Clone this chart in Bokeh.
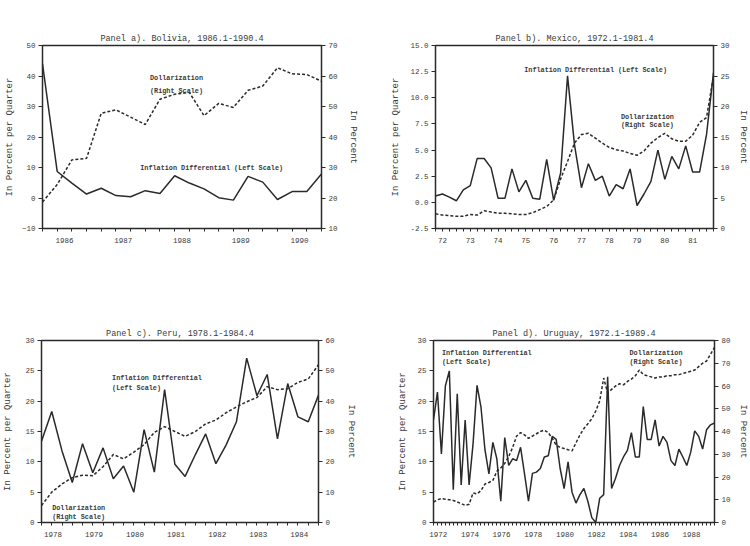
from bokeh.plotting import figure
from bokeh.models import (Range1d, LinearAxis, FixedTicker, CustomJSTickFormatter,
                          PrintfTickFormatter, Label, Title)
from bokeh.layouts import column, row
from bokeh.embed import file_html
from bokeh.resources import INLINE

# ---------------- data ----------------
# Panel a: Bolivia, quarterly from 1986.1
bol_start = 1986
bol_infl = [44.0, 8.7, 4.9, 1.3, 3.2, 0.8, 0.4, 2.4, 1.5, 7.3,
            4.9, 3.0, 0.1, -0.7, 7.1, 5.2, -0.5, 2.1, 2.1, 7.9]
bol_doll = [18.7, 24.4, 32.5, 33.0, 47.8, 48.9, 46.5, 44.1, 52.4, 54.0,
            54.6, 47.0, 51.0, 49.7, 55.3, 56.7, 62.7, 60.7, 60.5, 58.3]
bol_years = [1986, 1987, 1988, 1989, 1990]

# Panel b: Mexico, quarterly from 1972.1
mex_start = 1972
mex_infl = [0.6, 0.8, 0.5, 0.15, 1.2, 1.6, 4.2, 4.2, 3.3, 0.4,
            0.4, 3.2, 1.0, 2.1, 0.4, 0.3, 4.1, 0.2, 2.8, 12.1,
            5.5, 1.4, 3.7, 2.1, 2.5, 0.6, 1.7, 1.3, 3.2, -0.3,
            0.8, 2.0, 5.0, 2.2, 4.4, 3.2, 5.4, 2.9, 2.9, 6.5, 12.4]
mex_doll = [2.4, 2.2, 2.1, 2.0, 2.0, 2.3, 2.2, 2.9, 2.7, 2.5,
            2.5, 2.4, 2.3, 2.3, 2.6, 3.1, 3.6, 4.7, 8.1, 11.0,
            14.0, 15.4, 15.6, 14.8, 14.0, 13.3, 12.9, 12.7, 12.3, 12.0,
            12.7, 14.0, 14.9, 15.6, 14.7, 14.3, 14.3, 15.3, 17.4, 18.2, 25.0]
mex_years = [1972, 1973, 1974, 1975, 1976, 1977, 1978, 1979, 1980, 1981]

# Panel c: Peru, quarterly from 1978.1
per_start = 1978
per_infl = [13.4, 18.3, 11.8, 6.6, 13.0, 8.2, 12.3, 7.2, 9.3, 5.0,
            15.3, 8.3, 21.9, 9.6, 7.6, 11.2, 14.6, 9.7, 12.8, 16.6,
            27.1, 20.9, 24.4, 13.8, 22.9, 17.4, 16.6, 21.0]
per_doll = [5.6, 10.0, 12.7, 14.8, 15.6, 15.4, 18.4, 22.4, 21.0, 23.2,
            25.7, 29.7, 31.6, 30.0, 28.4, 30.0, 32.5, 33.8, 36.2, 38.1,
            39.8, 41.2, 44.8, 43.8, 44.1, 46.2, 47.3, 52.0]
per_years = [1978, 1979, 1980, 1981, 1982, 1983, 1984]

# Panel d: Uruguay, quarterly from 1972.1
uru_start = 1972
uru_infl = [16.9, 21.5, 11.3, 22.5, 25.0, 5.4, 21.2, 6.2, 16.9, 6.2,
            13.0, 22.6, 19.0, 12.0, 8.0, 13.2, 10.5, 3.5, 14.0, 9.4,
            10.5, 10.2, 12.4, 8.0, 3.5, 8.1, 8.3, 8.9, 10.8, 11.0,
            14.2, 13.7, 8.9, 5.6, 10.0, 5.0, 3.2, 4.6, 5.6, 3.5,
            0.8, 0.0, 4.0, 4.6, 24.0, 5.6, 7.3, 9.4, 10.8, 11.9,
            14.8, 10.8, 10.8, 19.1, 13.7, 13.7, 16.9, 12.6, 14.2, 13.2,
            10.2, 9.4, 12.1, 10.8, 9.4, 11.6, 15.1, 14.2, 12.1, 15.3,
            16.1, 16.4]
uru_doll = [9.0, 10.0, 10.5, 10.2, 10.0, 9.7, 9.0, 8.3, 7.5, 8.0,
            13.0, 12.6, 14.0, 16.9, 17.6, 18.5, 22.5, 24.0, 26.0, 29.0,
            33.0, 38.0, 39.5, 38.5, 37.0, 38.0, 39.0, 40.0, 40.6, 39.5,
            37.0, 34.0, 33.0, 32.5, 32.0, 31.5, 35.0, 38.5, 41.3, 43.4,
            45.6, 49.0, 53.5, 63.5, 57.0, 58.5, 60.0, 61.0, 60.5, 62.0,
            63.0, 64.5, 67.0, 65.0, 64.5, 64.0, 63.5, 64.0, 64.0, 64.5,
            64.5, 65.0, 65.0, 65.5, 66.0, 66.5, 67.0, 68.5, 70.0, 71.0,
            74.0, 77.0]
uru_years = [1972, 1974, 1976, 1978, 1980, 1982, 1984, 1986, 1988]

MONO = "Liberation Mono"
INK = "#2a2a2a"
TXT = "#3a3a3a"


def panel(title, start, infl, doll, years, label_off, yl, yl_ticks, yr, yr_ticks,
          borders, gap, lstand, rstand, yfmt=None, short_years=False):
    n = len(infl)
    xs = [start + i / 4 for i in range(n)]
    p = figure(width=375, height=273, output_backend="svg", toolbar_location=None,
               x_range=Range1d(xs[0], xs[-1]), y_range=Range1d(*yl),
               min_border_left=borders[0], min_border_right=borders[1],
               min_border_top=borders[2], min_border_bottom=borders[3])
    p.grid.visible = False
    p.background_fill_color = "white"
    p.border_fill_color = "white"
    p.outline_line_color = INK
    p.outline_line_width = 1.5

    p.title.text = ""
    # invisible spacer next to the frame, then the real title further out
    p.add_layout(Title(text=".", text_font_size="1px", text_alpha=0.0,
                       standoff=gap), "above")
    p.add_layout(Title(text=title, align="center", text_font=MONO,
                       text_font_size="8.5px", text_font_style="normal",
                       text_color=TXT, standoff=4), "above")

    p.extra_y_ranges = {"right": Range1d(*yr)}

    # x axis
    xa = p.xaxis[0]
    xa.ticker = FixedTicker(ticks=[y + label_off for y in years],
                            minor_ticks=[start + i / 4 for i in range(n)])
    code = "return String(Math.floor(tick + 1e-6) % 100)" if short_years else \
        "return String(Math.floor(tick + 1e-6))"
    xa.formatter = CustomJSTickFormatter(code=code)
    xa.major_tick_line_color = None
    xa.minor_tick_out = 3
    xa.minor_tick_in = 0
    xa.minor_tick_line_color = INK
    xa.major_label_standoff = 3
    xa.axis_line_color = INK

    # left axis
    ya = p.yaxis[0]
    ya.ticker = FixedTicker(ticks=yl_ticks)
    if yfmt:
        ya.formatter = PrintfTickFormatter(format=yfmt)
    ya.axis_label = "In Percent per Quarter"
    ya.axis_label_standoff = lstand

    # right axis
    ra = LinearAxis(y_range_name="right", ticker=FixedTicker(ticks=yr_ticks))
    ra.axis_label = "In Percent"
    ra.axis_label_standoff = rstand
    p.add_layout(ra, "right")

    for ax in (xa, ya, ra):
        ax.major_label_text_font = MONO
        ax.major_label_text_font_size = "7.5px"
        ax.major_label_text_color = TXT
        ax.axis_line_color = INK
    for ax in (ya, ra):
        ax.major_tick_out = 4
        ax.major_tick_in = 0
        ax.minor_tick_line_color = None
        ax.major_tick_line_color = INK
        ax.major_label_standoff = 3
        ax.axis_label_text_font = MONO
        ax.axis_label_text_font_size = "9px"
        ax.axis_label_text_font_style = "normal"
        ax.axis_label_text_color = TXT

    p.line(xs, infl, line_color=INK, line_width=1.5)
    p.line(xs, doll, line_color=INK, line_width=1.5, line_dash="3 2",
           y_range_name="right")
    return p


def note(p, x, y, text, align="left"):
    p.add_layout(Label(x=x, y=y, text=text, text_font=MONO, text_font_size="6.8px",
                       text_font_style="bold", text_color=TXT, text_align=align,
                       text_baseline="middle"))


pa = panel("Panel a). Bolivia, 1986.1-1990.4", bol_start, bol_infl, bol_doll,
           bol_years, 0.375, (-10, 50), [-10, 0, 10, 20, 30, 40, 50],
           (10, 70), [10, 20, 30, 40, 50, 60, 70],
           (42, 54, 42, 45), 22, 4, 7)
note(pa, 1987.83, 39.4, "Dollarization")
note(pa, 1987.83, 35.1, "(Right Scale)")
note(pa, 1988.88, 9.7, "Inflation Differential (Left Scale)", "center")

pb = panel("Panel b). Mexico, 1972.1-1981.4", mex_start, mex_infl, mex_doll,
           mex_years, 0.25, (-2.5, 15), [-2.5, 0, 2.5, 5, 7.5, 10, 12.5, 15],
           (0, 30), [0, 5, 10, 15, 20, 25, 30],
           (60, 33, 45, 45), 21, 6, 5, yfmt="%.1f", short_years=True)
note(pb, 1977.76, 12.7, "Inflation Differential (Left Scale)", "center")
note(pb, 1978.67, 8.15, "Dollarization")
note(pb, 1978.67, 7.35, "(Right Scale)")

pc = panel("Panel c). Peru, 1978.1-1984.4", per_start, per_infl, per_doll,
           per_years, 0.28, (0, 30), [0, 5, 10, 15, 20, 25, 30],
           (0, 60), [0, 10, 20, 30, 40, 50, 60],
           (41, 57, 65, 24), 23, 9, 8)
note(pc, 1979.72, 23.8, "Inflation Differential")
note(pc, 1979.72, 22.2, "(Left Scale)")
note(pc, 1978.26, 2.4, "Dollarization")
note(pc, 1978.26, 0.9, "(Right Scale)")

pd_ = panel("Panel d). Uruguay, 1972.1-1989.4", uru_start, uru_infl, uru_doll,
            uru_years, 0.3, (0, 30), [0, 5, 10, 15, 20, 25, 30],
            (0, 80), [0, 10, 20, 30, 40, 50, 60, 70, 80],
            (58, 33, 67, 20), 25, 6, 4)
note(pd_, 1972.53, 27.9, "Inflation Differential")
note(pd_, 1972.53, 26.4, "(Left Scale)")
note(pd_, 1984.38, 27.9, "Dollarization")
note(pd_, 1984.38, 26.4, "(Right Scale)")

layout = column(row(pa, pb), row(pc, pd_))
open("out.html", "w").write(file_html(layout, INLINE))
